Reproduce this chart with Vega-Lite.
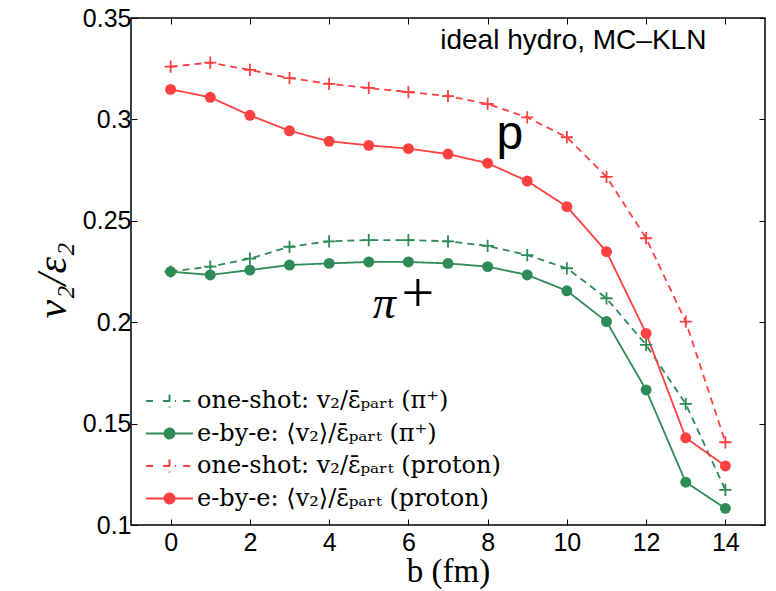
{
  "$schema": "https://vega.github.io/schema/vega-lite/v6.json",
  "width": 634,
  "height": 507,
  "autosize": "none",
  "padding": {"left": 131, "top": 18, "right": 11, "bottom": 66},
  "background": "white",
  "config": {
    "view": {"stroke": "black", "strokeWidth": 1.5},
    "font": "Liberation Sans",
    "axis": {"grid": false, "domain": false, "tickColor": "black", "tickWidth": 1, "labelColor": "black", "titleColor": "black"}
  },
  "datasets": {
    "curves": [
      {"b": 0, "v": 0.225, "series": "one-shot: v₂/ε̄ₚₐᵣₜ (π⁺)"},
      {"b": 1, "v": 0.2274, "series": "one-shot: v₂/ε̄ₚₐᵣₜ (π⁺)"},
      {"b": 2, "v": 0.2313, "series": "one-shot: v₂/ε̄ₚₐᵣₜ (π⁺)"},
      {"b": 3, "v": 0.2372, "series": "one-shot: v₂/ε̄ₚₐᵣₜ (π⁺)"},
      {"b": 4, "v": 0.2399, "series": "one-shot: v₂/ε̄ₚₐᵣₜ (π⁺)"},
      {"b": 5, "v": 0.2405, "series": "one-shot: v₂/ε̄ₚₐᵣₜ (π⁺)"},
      {"b": 6, "v": 0.2405, "series": "one-shot: v₂/ε̄ₚₐᵣₜ (π⁺)"},
      {"b": 7, "v": 0.2399, "series": "one-shot: v₂/ε̄ₚₐᵣₜ (π⁺)"},
      {"b": 8, "v": 0.2376, "series": "one-shot: v₂/ε̄ₚₐᵣₜ (π⁺)"},
      {"b": 9, "v": 0.2331, "series": "one-shot: v₂/ε̄ₚₐᵣₜ (π⁺)"},
      {"b": 10, "v": 0.2266, "series": "one-shot: v₂/ε̄ₚₐᵣₜ (π⁺)"},
      {"b": 11, "v": 0.2118, "series": "one-shot: v₂/ε̄ₚₐᵣₜ (π⁺)"},
      {"b": 12, "v": 0.1888, "series": "one-shot: v₂/ε̄ₚₐᵣₜ (π⁺)"},
      {"b": 13, "v": 0.1597, "series": "one-shot: v₂/ε̄ₚₐᵣₜ (π⁺)"},
      {"b": 14, "v": 0.1173, "series": "one-shot: v₂/ε̄ₚₐᵣₜ (π⁺)"},
      {"b": 0, "v": 0.2249, "series": "e-by-e: ⟨v₂⟩/ε̄ₚₐᵣₜ (π⁺)"},
      {"b": 1, "v": 0.2233, "series": "e-by-e: ⟨v₂⟩/ε̄ₚₐᵣₜ (π⁺)"},
      {"b": 2, "v": 0.2257, "series": "e-by-e: ⟨v₂⟩/ε̄ₚₐᵣₜ (π⁺)"},
      {"b": 3, "v": 0.2282, "series": "e-by-e: ⟨v₂⟩/ε̄ₚₐᵣₜ (π⁺)"},
      {"b": 4, "v": 0.229, "series": "e-by-e: ⟨v₂⟩/ε̄ₚₐᵣₜ (π⁺)"},
      {"b": 5, "v": 0.2297, "series": "e-by-e: ⟨v₂⟩/ε̄ₚₐᵣₜ (π⁺)"},
      {"b": 6, "v": 0.2297, "series": "e-by-e: ⟨v₂⟩/ε̄ₚₐᵣₜ (π⁺)"},
      {"b": 7, "v": 0.229, "series": "e-by-e: ⟨v₂⟩/ε̄ₚₐᵣₜ (π⁺)"},
      {"b": 8, "v": 0.2274, "series": "e-by-e: ⟨v₂⟩/ε̄ₚₐᵣₜ (π⁺)"},
      {"b": 9, "v": 0.2233, "series": "e-by-e: ⟨v₂⟩/ε̄ₚₐᵣₜ (π⁺)"},
      {"b": 10, "v": 0.2155, "series": "e-by-e: ⟨v₂⟩/ε̄ₚₐᵣₜ (π⁺)"},
      {"b": 11, "v": 0.2003, "series": "e-by-e: ⟨v₂⟩/ε̄ₚₐᵣₜ (π⁺)"},
      {"b": 12, "v": 0.1666, "series": "e-by-e: ⟨v₂⟩/ε̄ₚₐᵣₜ (π⁺)"},
      {"b": 13, "v": 0.1211, "series": "e-by-e: ⟨v₂⟩/ε̄ₚₐᵣₜ (π⁺)"},
      {"b": 14, "v": 0.1082, "series": "e-by-e: ⟨v₂⟩/ε̄ₚₐᵣₜ (π⁺)"},
      {"b": 0, "v": 0.326, "series": "one-shot: v₂/ε̄ₚₐᵣₜ (proton)"},
      {"b": 1, "v": 0.328, "series": "one-shot: v₂/ε̄ₚₐᵣₜ (proton)"},
      {"b": 2, "v": 0.3244, "series": "one-shot: v₂/ε̄ₚₐᵣₜ (proton)"},
      {"b": 3, "v": 0.3204, "series": "one-shot: v₂/ε̄ₚₐᵣₜ (proton)"},
      {"b": 4, "v": 0.3175, "series": "one-shot: v₂/ε̄ₚₐᵣₜ (proton)"},
      {"b": 5, "v": 0.3155, "series": "one-shot: v₂/ε̄ₚₐᵣₜ (proton)"},
      {"b": 6, "v": 0.3135, "series": "one-shot: v₂/ε̄ₚₐᵣₜ (proton)"},
      {"b": 7, "v": 0.3115, "series": "one-shot: v₂/ε̄ₚₐᵣₜ (proton)"},
      {"b": 8, "v": 0.3076, "series": "one-shot: v₂/ε̄ₚₐᵣₜ (proton)"},
      {"b": 9, "v": 0.301, "series": "one-shot: v₂/ε̄ₚₐᵣₜ (proton)"},
      {"b": 10, "v": 0.2912, "series": "one-shot: v₂/ε̄ₚₐᵣₜ (proton)"},
      {"b": 11, "v": 0.2717, "series": "one-shot: v₂/ε̄ₚₐᵣₜ (proton)"},
      {"b": 12, "v": 0.2414, "series": "one-shot: v₂/ε̄ₚₐᵣₜ (proton)"},
      {"b": 13, "v": 0.2003, "series": "one-shot: v₂/ε̄ₚₐᵣₜ (proton)"},
      {"b": 14, "v": 0.1408, "series": "one-shot: v₂/ε̄ₚₐᵣₜ (proton)"},
      {"b": 0, "v": 0.3148, "series": "e-by-e: ⟨v₂⟩/ε̄ₚₐᵣₜ (proton)"},
      {"b": 1, "v": 0.3109, "series": "e-by-e: ⟨v₂⟩/ε̄ₚₐᵣₜ (proton)"},
      {"b": 2, "v": 0.302, "series": "e-by-e: ⟨v₂⟩/ε̄ₚₐᵣₜ (proton)"},
      {"b": 3, "v": 0.2944, "series": "e-by-e: ⟨v₂⟩/ε̄ₚₐᵣₜ (proton)"},
      {"b": 4, "v": 0.2892, "series": "e-by-e: ⟨v₂⟩/ε̄ₚₐᵣₜ (proton)"},
      {"b": 5, "v": 0.2872, "series": "e-by-e: ⟨v₂⟩/ε̄ₚₐᵣₜ (proton)"},
      {"b": 6, "v": 0.2856, "series": "e-by-e: ⟨v₂⟩/ε̄ₚₐᵣₜ (proton)"},
      {"b": 7, "v": 0.2829, "series": "e-by-e: ⟨v₂⟩/ε̄ₚₐᵣₜ (proton)"},
      {"b": 8, "v": 0.2784, "series": "e-by-e: ⟨v₂⟩/ε̄ₚₐᵣₜ (proton)"},
      {"b": 9, "v": 0.2696, "series": "e-by-e: ⟨v₂⟩/ε̄ₚₐᵣₜ (proton)"},
      {"b": 10, "v": 0.257, "series": "e-by-e: ⟨v₂⟩/ε̄ₚₐᵣₜ (proton)"},
      {"b": 11, "v": 0.2348, "series": "e-by-e: ⟨v₂⟩/ε̄ₚₐᵣₜ (proton)"},
      {"b": 12, "v": 0.1945, "series": "e-by-e: ⟨v₂⟩/ε̄ₚₐᵣₜ (proton)"},
      {"b": 13, "v": 0.143, "series": "e-by-e: ⟨v₂⟩/ε̄ₚₐᵣₜ (proton)"},
      {"b": 14, "v": 0.1291, "series": "e-by-e: ⟨v₂⟩/ε̄ₚₐᵣₜ (proton)"}
    ],
    "notes": [
      {"kind": "label", "b": 13.52, "v": 0.3345, "text": "ideal hydro, MC–KLN"},
      {"kind": "p", "b": 8.56, "v": 0.2854, "text": "p"},
      {"kind": "pi", "b": 5.39, "v": 0.2021, "text": "π"},
      {"kind": "plus", "b": 6.24, "v": 0.2134, "text": "+"}
    ]
  },
  "resolve": {"axis": {"x": "independent", "y": "independent"}},
  "layer": [
    {
      "data": {"name": "curves"},
      "mark": {"type": "line", "strokeWidth": 1.8},
      "encoding": {
        "x": {"field": "b", "type": "quantitative",
              "scale": {"domain": [-1, 15], "nice": false, "zero": false},
              "axis": {"orient": "bottom", "values": [0, 2, 4, 6, 8, 10, 12, 14], "format": "d", "tickSize": -6, "labelFontSize": 25, "labelPadding": 11, "title": "b (fm)", "titleFont": "Liberation Serif", "titleFontSize": 33, "titleFontWeight": "normal", "titlePadding": 0}},
        "y": {"field": "v", "type": "quantitative",
              "scale": {"domain": [0.1, 0.35], "nice": false, "zero": false},
              "axis": {"orient": "left", "values": [0.1, 0.15, 0.2, 0.25, 0.3, 0.35], "format": ".2~f", "tickSize": -6, "labelFontSize": 25, "labelPadding": 6, "title": "v₂/ε₂", "titleFont": "Liberation Serif", "titleFontStyle": "italic", "titleFontSize": 42, "titleFontWeight": "normal", "titlePadding": 8, "titleY": 262}},
        "color": {"field": "series", "type": "nominal",
                  "scale": {"domain": ["one-shot: v₂/ε̄ₚₐᵣₜ (π⁺)", "e-by-e: ⟨v₂⟩/ε̄ₚₐᵣₜ (π⁺)", "one-shot: v₂/ε̄ₚₐᵣₜ (proton)", "e-by-e: ⟨v₂⟩/ε̄ₚₐᵣₜ (proton)"],
                            "range": ["#2e8b57", "#2e8b57", "#ff4040", "#ff4040"]},
                  "legend": {
                    "title": null, "orient": "none", "legendX": 14, "legendY": 368,
                    "labelFont": "DejaVu Serif", "labelFontSize": 24, "labelColor": "black", "labelLimit": 0,
                    "symbolSize": 2200, "symbolStrokeWidth": 2, "clipHeight": 30, "rowPadding": 2.5, "labelOffset": 3,
                    "encode": {"symbols": {"update": {
                      "shape": {"signal": "indexof(datum.value,'one-shot')===0 ? 'M-1,0H-0.58M-0.28,0H0.28M0.58,0H1M0,-0.28V0.28' : 'M-1,0H1M-0.21,0A0.21,0.21,0,1,1,0.21,0A0.21,0.21,0,1,1,-0.21,0Z'"},
                      "fill": {"signal": "indexof(datum.value,'one-shot')===0 ? 'transparent' : (indexof(datum.value,'proton')>=0 ? '#ff4040' : '#2e8b57')"},
                      "stroke": {"signal": "indexof(datum.value,'proton')>=0 ? '#ff4040' : '#2e8b57'"},
                      "strokeDash": {"value": []},
                      "strokeWidth": {"value": 2},
                      "opacity": {"value": 1}
                    }}}
                  }},
        "strokeDash": {"field": "series", "type": "nominal",
                       "scale": {"domain": ["one-shot: v₂/ε̄ₚₐᵣₜ (π⁺)", "e-by-e: ⟨v₂⟩/ε̄ₚₐᵣₜ (π⁺)", "one-shot: v₂/ε̄ₚₐᵣₜ (proton)", "e-by-e: ⟨v₂⟩/ε̄ₚₐᵣₜ (proton)"],
                                 "range": [[7, 5], [1, 0], [7, 5], [1, 0]]},
                       "legend": null}
      }
    },
    {
      "data": {"name": "curves"},
      "transform": [{"filter": "indexof(datum.series,'e-by-e')===0"}],
      "mark": {"type": "point", "filled": true, "shape": "circle", "size": 120, "opacity": 1},
      "encoding": {
        "x": {"field": "b", "type": "quantitative", "scale": {"domain": [-1, 15], "nice": false, "zero": false}, "axis": null},
        "y": {"field": "v", "type": "quantitative", "scale": {"domain": [0.1, 0.35], "nice": false, "zero": false}, "axis": null},
        "color": {"field": "series", "type": "nominal", "legend": null}
      }
    },
    {
      "data": {"name": "curves"},
      "transform": [{"filter": "indexof(datum.series,'one-shot')===0"}],
      "mark": {"type": "point", "filled": false, "shape": "M-1,0H1M0,-1V1", "size": 150, "strokeWidth": 1.8, "opacity": 1},
      "encoding": {
        "x": {"field": "b", "type": "quantitative", "scale": {"domain": [-1, 15], "nice": false, "zero": false}, "axis": null},
        "y": {"field": "v", "type": "quantitative", "scale": {"domain": [0.1, 0.35], "nice": false, "zero": false}, "axis": null},
        "color": {"field": "series", "type": "nominal", "legend": null}
      }
    },
    {
      "data": {"name": "notes"},
      "transform": [{"filter": "datum.kind==='label'"}],
      "mark": {"type": "text", "align": "right", "baseline": "alphabetic", "fontSize": 28, "font": "Liberation Sans", "color": "black"},
      "encoding": {
        "x": {"field": "b", "type": "quantitative", "scale": {"domain": [-1, 15], "nice": false, "zero": false},
              "axis": {"orient": "top", "values": [0, 2, 4, 6, 8, 10, 12, 14], "tickSize": -6, "labels": false, "title": null}},
        "y": {"field": "v", "type": "quantitative", "scale": {"domain": [0.1, 0.35], "nice": false, "zero": false},
              "axis": {"orient": "right", "values": [0.1, 0.15, 0.2, 0.25, 0.3, 0.35], "tickSize": -6, "labels": false, "title": null}},
        "text": {"field": "text"}
      }
    },
    {
      "data": {"name": "notes"},
      "transform": [{"filter": "datum.kind==='p'"}],
      "mark": {"type": "text", "align": "center", "baseline": "alphabetic", "fontSize": 48, "font": "Liberation Sans", "color": "black"},
      "encoding": {
        "x": {"field": "b", "type": "quantitative", "scale": {"domain": [-1, 15], "nice": false, "zero": false}, "axis": null},
        "y": {"field": "v", "type": "quantitative", "scale": {"domain": [0.1, 0.35], "nice": false, "zero": false}, "axis": null},
        "text": {"field": "text"}
      }
    },
    {
      "data": {"name": "notes"},
      "transform": [{"filter": "datum.kind==='pi'"}],
      "mark": {"type": "text", "align": "center", "baseline": "alphabetic", "fontSize": 46, "font": "Liberation Serif", "fontStyle": "italic", "color": "black"},
      "encoding": {
        "x": {"field": "b", "type": "quantitative", "scale": {"domain": [-1, 15], "nice": false, "zero": false}, "axis": null},
        "y": {"field": "v", "type": "quantitative", "scale": {"domain": [0.1, 0.35], "nice": false, "zero": false}, "axis": null},
        "text": {"field": "text"}
      }
    },
    {
      "data": {"name": "notes"},
      "transform": [{"filter": "datum.kind==='plus'"}],
      "mark": {"type": "text", "align": "center", "baseline": "middle", "fontSize": 58, "font": "Liberation Serif", "color": "black"},
      "encoding": {
        "x": {"field": "b", "type": "quantitative", "scale": {"domain": [-1, 15], "nice": false, "zero": false}, "axis": null},
        "y": {"field": "v", "type": "quantitative", "scale": {"domain": [0.1, 0.35], "nice": false, "zero": false}, "axis": null},
        "text": {"field": "text"}
      }
    }
  ]
}
